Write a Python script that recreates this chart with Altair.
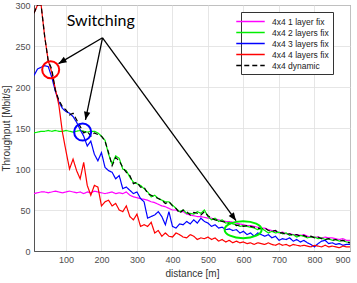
import altair as alt
import pandas as pd

distance = list(range(10, 901, 10))

tp_1layer = [70,71,72,72,71,72,73,72,71,72,73,72,71,72,70,72,71,73,72,71,70,71,72,70,71,
             70,72,68,66,65,64,63,62,60,59,57,55,54,52,50,50,48,48,45,44,43,42,42,41,40,
             40,39,38,37,36,36,35,34,33,32,31,31,30,29,28,28,26,25,24,22,23,21,21,20,20,
             19,20,18,17,17,17,16,17,16,16,15,14,15,13,13]

tp_2layers = [144,145,146,146,147,146,147,146,146,147,146,145,146,147,146,145,146,146,144,
              140,135,118,106,116,113,100,98,90,84,82,80,76,72,66,68,64,62,60,60,56,
              52,48,50,46,46,45,48,46,50,42,38,40,36,38,34,35,33,32,30,31,
              30,29,28,26,28,25,22,24,22,23,21,22,19,20,17,19,18,16,17,17,
              15,16,14,15,13,14,12,13,11,11]

tp_3layers = [214,222,224,226,225,212,195,182,174,170,168,164,157,148,140,128,134,118,110,120,
              102,98,96,88,92,76,78,74,70,72,64,60,40,42,44,48,42,32,48,30,
              28,33,32,36,33,38,34,40,36,34,30,32,28,29,26,27,25,26,22,24,
              20,22,18,22,20,18,20,16,18,13,15,14,16,12,14,11,13,10,8,5,
              9,12,13,9,10,8,9,7,8,8]

tp_4layers = [290,300,300,262,232,218,198,178,145,122,100,112,98,88,108,80,68,80,78,55,
              60,62,55,58,50,48,55,42,38,45,30,32,30,35,22,25,18,22,18,17,
              22,20,17,16,20,18,14,16,15,17,14,16,12,14,11,13,10,12,10,11,
              9,10,8,10,9,8,10,8,7,9,7,8,6,8,7,6,7,6,5,7,
              6,5,7,5,6,5,4,6,5,5]

tp_dynamic = [290,300,300,262,232,222,196,184,176,172,166,168,160,152,144,146,140,144,142,140,
              134,120,104,114,110,102,96,92,82,84,78,78,70,68,66,64,62,58,60,55,
              52,46,50,48,44,47,46,44,48,43,40,38,37,36,35,33,34,31,32,30,
              31,30,29,28,27,28,25,24,25,22,22,20,21,19,20,18,19,17,18,16,
              17,15,14,15,13,14,12,13,11,10]

series_names = ["4x4 1 layer fix", "4x4 2 layers fix", "4x4 3 layers fix",
                "4x4 4 layers fix", "4x4 dynamic"]
series_values = [tp_1layer, tp_2layers, tp_3layers, tp_4layers, tp_dynamic]
series_colors = ["#ff00ff", "#00ee00", "#0000ff", "#ff0000", "#000000"]
series_dash = [[1, 0], [1, 0], [1, 0], [1, 0], [5, 3]]

rows = []
for name, vals in zip(series_names, series_values):
    for d, v in zip(distance, vals):
        rows.append({"distance": d, "throughput": v, "series": name})
df = pd.DataFrame(rows)

x_ticks = [100, 200, 300, 400, 500, 600, 700, 800, 900]
y_ticks = [0, 50, 100, 150, 200, 250, 300]

FONT = "Liberation Sans"
xscale = alt.Scale(domain=[10, 900], nice=False, zero=False)
yscale = alt.Scale(domain=[0, 300], nice=False)
x_axis = alt.Axis(values=x_ticks, title="distance [m]", grid=True, labelOverlap=False)
y_axis = alt.Axis(values=y_ticks, title="Throughput [Mbit/s]", grid=True, labelOverlap=False)

legend_kw = dict(title=None, orient="none", legendX=207, legendY=7,
                 symbolType="M-3,0H3", symbolSize=90,
                 symbolStrokeWidth=1.5, labelFontSize=8.5,
                 labelFont=FONT, labelColor="#222",
                 fillColor="white", strokeColor="#333",
                 padding=4, rowPadding=1, labelOffset=16)

lines = alt.Chart(df).mark_line(strokeWidth=1.2, clip=True).encode(
    x=alt.X("distance:Q", scale=xscale, axis=x_axis),
    y=alt.Y("throughput:Q", scale=yscale, axis=y_axis),
    color=alt.Color("series:N",
                    scale=alt.Scale(domain=series_names, range=series_colors),
                    legend=alt.Legend(**legend_kw)),
    strokeDash=alt.StrokeDash("series:N",
                              scale=alt.Scale(domain=series_names, range=series_dash),
                              legend=alt.Legend(**legend_kw)),
    strokeWidth=alt.condition(alt.datum.series == "4x4 dynamic", alt.value(1.8), alt.value(1.2)),
)

# Annotations
circ_df = pd.DataFrame({"x": [57, 147], "y": [221, 145], "c": ["#ff0000", "#0000ff"]})
circles = alt.Chart(circ_df).mark_point(shape="circle", size=290, strokeWidth=2, filled=False,
                                        opacity=1).encode(
    x=alt.X("x:Q", scale=xscale, axis=x_axis), y=alt.Y("y:Q", scale=yscale, axis=y_axis),
    stroke=alt.Stroke("c:N", scale=None))

ell_df = pd.DataFrame({"x": [599], "y": [26]})
ellipse = alt.Chart(ell_df).mark_point(
    shape="M-1,0 A1,0.46 0 1,1 1,0 A1,0.46 0 1,1 -1,0 Z", size=1369,
    strokeWidth=2, filled=False, color="#00ee00", opacity=1).encode(
    x=alt.X("x:Q", scale=xscale, axis=x_axis), y=alt.Y("y:Q", scale=yscale, axis=y_axis))

arrow_df = pd.DataFrame({"x0": [203, 203, 203], "y0": [260, 260, 260],
                         "x1": [79, 155, 579], "y1": [228.5, 160, 37],
                         "ang": [239.4, 192, 143.8]})
arrow_lines = alt.Chart(arrow_df).mark_rule(color="black", strokeWidth=1.3).encode(
    x=alt.X("x0:Q", scale=xscale, axis=x_axis), y=alt.Y("y0:Q", scale=yscale, axis=y_axis),
    x2="x1:Q", y2="y1:Q")
arrow_heads = alt.Chart(arrow_df).mark_point(
    shape="M0,0 L-0.4,1 L0.4,1 Z", size=256, filled=True, color="black", opacity=1).encode(
    x=alt.X("x1:Q", scale=xscale, axis=x_axis), y=alt.Y("y1:Q", scale=yscale, axis=y_axis),
    angle=alt.Angle("ang:Q", scale=None))

label_df = pd.DataFrame({"x": [198], "y": [281], "t": ["Switching"]})
label = alt.Chart(label_df).mark_text(font="Lato", fontSize=16, color="black").encode(
    x=alt.X("x:Q", scale=xscale, axis=x_axis), y=alt.Y("y:Q", scale=yscale, axis=y_axis),
    text="t:N")

chart = alt.layer(lines, circles, ellipse, arrow_lines, arrow_heads, label).properties(
    width=316, height=246,
    autosize=alt.AutoSizeParams(type="none"),
    padding={"left": 34, "top": 5, "right": 7, "bottom": 32},
    background="white",
).configure_view(
    stroke="#444", strokeWidth=1
).configure_axis(
    labelFont=FONT, labelFontSize=9, labelColor="#4d4d4d",
    titleFont=FONT, titleFontSize=10, titleColor="#333", titleFontWeight="normal",
    gridColor="#e0e0e0", gridWidth=0.8, domainColor="#555", ticks=False,
    labelPadding=4, labelOverlap=False,
).configure_axisX(titlePadding=4).configure_axisY(titlePadding=3)

chart.save("out.html", embed_options={"renderer": "svg", "actions": False})
